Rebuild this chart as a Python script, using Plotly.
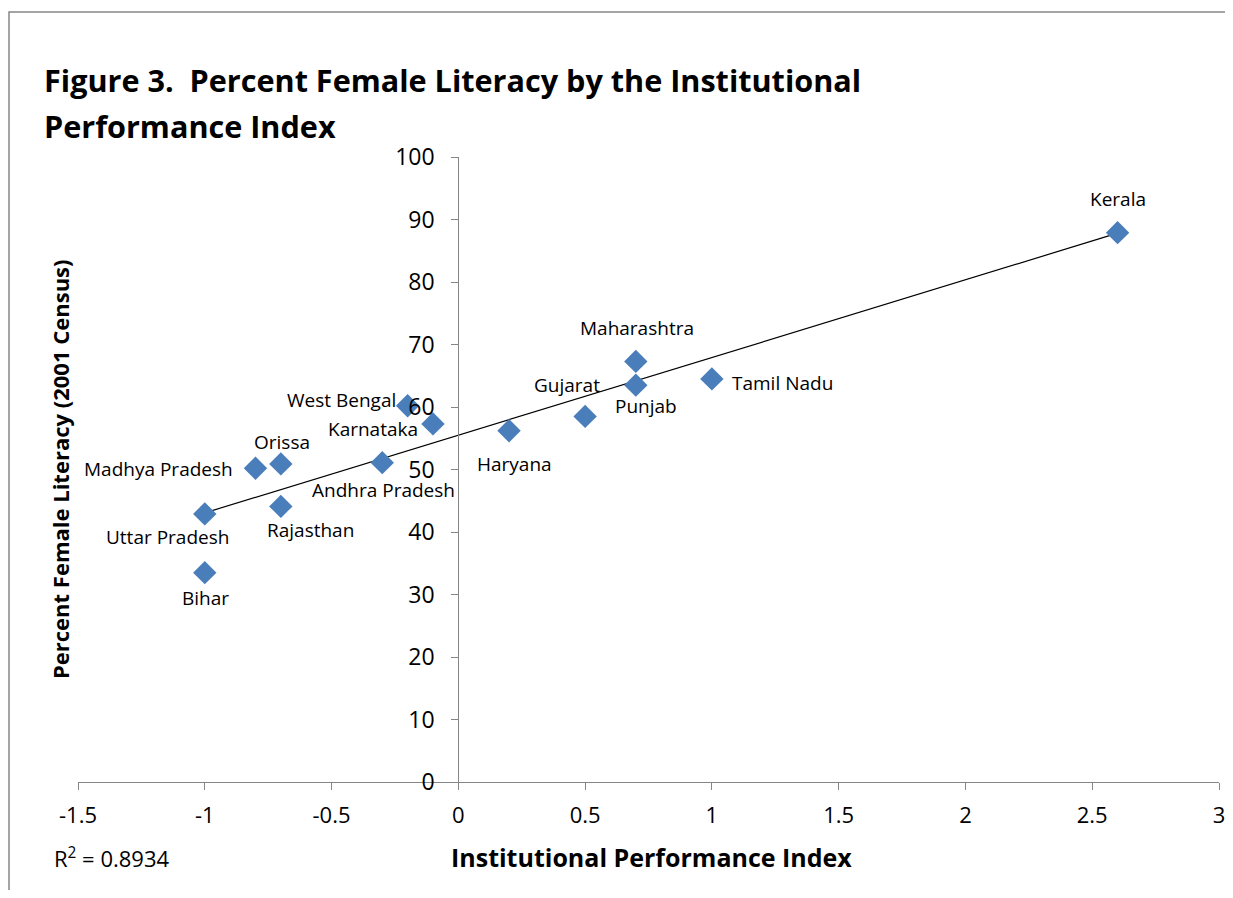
import numpy as np
import plotly.graph_objects as go

states = ["Kerala", "Maharashtra", "Punjab", "Tamil Nadu", "Gujarat", "Haryana",
          "Karnataka", "West Bengal", "Andhra Pradesh", "Orissa", "Madhya Pradesh",
          "Rajasthan", "Uttar Pradesh", "Bihar"]
ipi = [2.6, 0.7, 0.7, 1.0, 0.5, 0.2, -0.1, -0.2, -0.3, -0.7, -0.8, -0.7, -1.0, -1.0]
literacy = [87.9, 67.3, 63.5, 64.5, 58.5, 56.2, 57.3, 60.2, 51.1, 50.9, 50.2, 44.1, 42.9, 33.5]

# label offsets in pixels (dx, dy, xanchor)
label_pos = {
    "Kerala": (0, 34, "center"),
    "Maharashtra": (1, 33, "center"),
    "Punjab": (10, -21, "center"),
    "Tamil Nadu": (18, -4, "left"),
    "Gujarat": (-18, 31, "center"),
    "Haryana": (5, -33, "center"),
    "Karnataka": (-13, -5, "right"),
    "West Bengal": (-10, 6, "right"),
    "Andhra Pradesh": (1, -27, "center"),
    "Orissa": (1, 22, "center"),
    "Madhya Pradesh": (-20, -1, "right"),
    "Rajasthan": (30, -24, "center"),
    "Uttar Pradesh": (-37, -23, "center"),
    "Bihar": (1, -25, "center"),
}

FONT = "Open Sans"
AXIS_COLOR = "#868686"

# page body has an 8px margin; work in reference pixels and shift
O = 8
W, H = 1233 - 2 * O, 898 - 2 * O
L, R, T, B = 78 - O, 1219 - O, 157 - O, 782 - O

def px(p):
    return (p - O - L) / (R - L)
def py(p):
    return (B - (p - O)) / (B - T)

slope, intercept = np.polyfit(ipi, literacy, 1)
x_fit = np.array([min(ipi), max(ipi)])
y_fit = slope * x_fit + intercept

fig = go.Figure()
fig.add_trace(go.Scatter(x=x_fit, y=y_fit, mode="lines",
                         line=dict(color="black", width=1.2), hoverinfo="skip"))
fig.add_trace(go.Scatter(x=ipi, y=literacy, mode="markers", text=states,
                         marker=dict(symbol="diamond", size=18, color="#4A7EBB",
                                     line=dict(width=0))))

annotations = []
for s, x, y in zip(states, ipi, literacy):
    dx, dy, xa = label_pos[s]
    annotations.append(dict(x=x, y=y, xref="x", yref="y", text=s, showarrow=False,
                            xshift=dx, yshift=dy, xanchor=xa, yanchor="middle",
                            font=dict(family=FONT, size=19, color="black")))

annotations += [
    dict(x=px(42), y=py(80), xref="paper", yref="paper", xanchor="left", yanchor="middle",
         text="<b>Figure 3.  Percent Female Literacy by the Institutional</b>", showarrow=False,
         font=dict(family=FONT, size=30.6, color="black")),
    dict(x=px(42), y=py(126), xref="paper", yref="paper", xanchor="left", yanchor="middle",
         text="<b>Performance Index</b>", showarrow=False,
         font=dict(family=FONT, size=30.6, color="black")),
    dict(x=px(60), y=py(470), xref="paper", yref="paper", xanchor="center", yanchor="middle",
         text="<b>Percent Female Literacy (2001 Census)</b>", textangle=-90, showarrow=False,
         font=dict(family=FONT, size=22, color="black")),
    dict(x=px(651), y=py(857), xref="paper", yref="paper", xanchor="center", yanchor="middle",
         text="<b>Institutional Performance Index</b>", showarrow=False,
         font=dict(family=FONT, size=25, color="black")),
    dict(x=px(52), y=py(857), xref="paper", yref="paper", xanchor="left", yanchor="middle",
         text="R<sup>2</sup> = 0.8934", showarrow=False,
         font=dict(family=FONT, size=22, color="black")),
]

fig.update_layout(
    width=W, height=H,
    margin=dict(l=L, r=W - R, t=T, b=H - B, pad=0),
    paper_bgcolor="white", plot_bgcolor="white",
    showlegend=False,
    annotations=annotations,
    shapes=[dict(type="rect", xref="paper", yref="paper",
                 x0=px(9), y0=-0.5, x1=1.2, y1=py(12),
                 line=dict(color=AXIS_COLOR, width=1.5), layer="below")],
    xaxis=dict(range=[-1.5, 3], tickvals=[-1.5, -1, -0.5, 0, 0.5, 1, 1.5, 2, 2.5, 3],
               ticktext=["-1.5", "-1", "-0.5", "0", "0.5", "1", "1.5", "2", "2.5", "3"],
               showgrid=False, zeroline=False, showline=True, linecolor=AXIS_COLOR,
               linewidth=1.2, ticks="outside", ticklen=7, tickcolor=AXIS_COLOR,
               ticklabelstandoff=6, ticklabeloverflow="allow", automargin=False,
               tickfont=dict(family=FONT, size=22, color="black")),
    yaxis=dict(range=[0, 100], dtick=10, anchor="free", position=1.5 / 4.5,
               showgrid=False, zeroline=False, showline=True, linecolor=AXIS_COLOR,
               linewidth=1.2, ticks="outside", ticklen=7, tickcolor=AXIS_COLOR,
               ticklabelstandoff=12, ticklabeloverflow="allow", automargin=False,
               tickfont=dict(family=FONT, size=23, color="black")),
)

fig.write_html("out.html")
